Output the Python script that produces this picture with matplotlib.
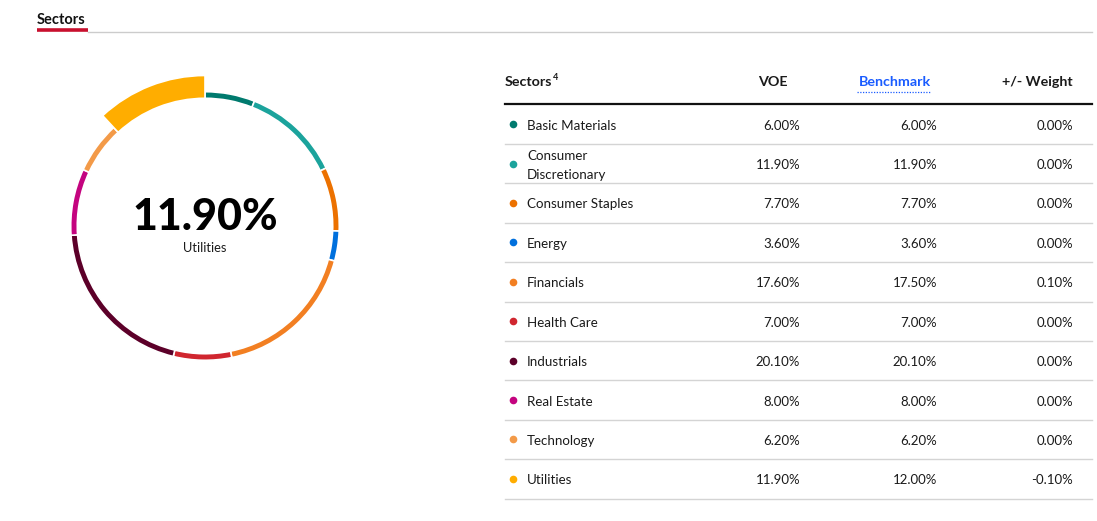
import matplotlib.pyplot as plt
from matplotlib.lines import Line2D

plt.rcParams['font.family'] = ['Lato', 'DejaVu Sans']

sectors = ["Basic Materials", "Consumer\nDiscretionary", "Consumer Staples", "Energy",
           "Financials", "Health Care", "Industrials", "Real Estate", "Technology", "Utilities"]
voe = [6.00, 11.90, 7.70, 3.60, 17.60, 7.00, 20.10, 8.00, 6.20, 11.90]
benchmark = [6.00, 11.90, 7.70, 3.60, 17.50, 7.00, 20.10, 8.00, 6.20, 12.00]
weight = [0.00, 0.00, 0.00, 0.00, 0.10, 0.00, 0.00, 0.00, 0.00, -0.10]
colors = ["#007a6e", "#1ba39c", "#ec7100", "#0070dd", "#f27f22",
          "#d0262f", "#5c0029", "#c4047f", "#f39a48", "#ffad00"]
highlight = 9  # Utilities

W, H = 1097, 521
fig = plt.figure(figsize=(W / 100, H / 100), dpi=100)
fig.patch.set_facecolor("white")

# page axes in pixel units
ax = fig.add_axes([0, 0, 1, 1])
ax.set_xlim(0, W)
ax.set_ylim(H, 0)
ax.axis("off")

txt = "#1a1a1a"

# tab header
ax.text(37, 20, "Sectors", fontsize=10.5, fontweight="bold", color="#111111", va="center", ha="left")
ax.add_line(Line2D([88, 1092], [31.5, 31.5], color="#cccccc", lw=1))
ax.add_line(Line2D([37, 88], [29.5, 29.5], color="#c8102e", lw=2.6, solid_capstyle="butt"))

# table header
x_left, x_right = 505, 1092
x_voe, x_bench, x_wt = 800, 937, 1073
ax.text(x_left, 82, "Sectors", fontsize=10.3, fontweight="bold", color=txt, va="center")
ax.text(553, 77, "4", fontsize=6.5, fontweight="bold", color=txt, va="center")
ax.text(788, 82, "VOE", fontsize=10.3, fontweight="bold", color=txt, va="center", ha="right")
ax.text(931, 82, "Benchmark", fontsize=10.3, fontweight="bold", color="#1a5cff", va="center", ha="right")
ax.add_line(Line2D([857, 931], [92, 92], color="#1a5cff", lw=0.9, ls=(0, (1, 1.2))))
ax.text(x_wt, 82, "+/- Weight", fontsize=10.3, fontweight="bold", color=txt, va="center", ha="right")
ax.add_line(Line2D([x_left, x_right], [103.5, 103.5], color="#111111", lw=1.6))

row_top = 104.5
row_h = 39.4
for i, name in enumerate(sectors):
    yc = row_top + row_h * (i + 0.5)
    ax.plot(512.5, yc, "o", ms=5.5, color=colors[i], mec="none")
    ax.text(527, yc + 1.5, name, fontsize=9.6, color=txt, va="center", ha="left", linespacing=1.7)
    ax.text(x_voe, yc + 1.5, f"{voe[i]:.2f}%", fontsize=9.5, color=txt, va="center", ha="right")
    ax.text(x_bench, yc + 1.5, f"{benchmark[i]:.2f}%", fontsize=9.5, color=txt, va="center", ha="right")
    ax.text(x_wt, yc + 1.5, f"{weight[i]:.2f}%", fontsize=9.5, color=txt, va="center", ha="right")
    yl = row_top + row_h * (i + 1)
    ax.add_line(Line2D([x_left, x_right], [yl, yl], color="#d4d4d4", lw=1))

# donut
cx, cy, half = 205, 226, 165
r_out, r_in, r_big = 134.3, 127.7, 150.5
dax = fig.add_axes([(cx - half) / W, (H - cy - half) / H, 2 * half / W, 2 * half / H])
dax.patch.set_alpha(0)
wedges, _ = dax.pie(voe, colors=colors, startangle=90, counterclock=False, radius=r_out,
                    wedgeprops=dict(width=r_out - r_in, edgecolor="white", linewidth=1.2))
wedges[highlight].set_radius(r_big)
wedges[highlight].set_width(r_big - r_in)
dax.set_xlim(-half, half)
dax.set_ylim(-half, half)
dax.set_aspect("equal")
dax.axis("off")

ax.text(cx, 217, f"{voe[highlight]:.2f}%", fontsize=31, fontweight="black", color="#000000",
        ha="center", va="center")
ax.text(cx, 248, "Utilities", fontsize=9.3, color=txt, ha="center", va="center")

fig.savefig("out.png", dpi=100, facecolor="white")
